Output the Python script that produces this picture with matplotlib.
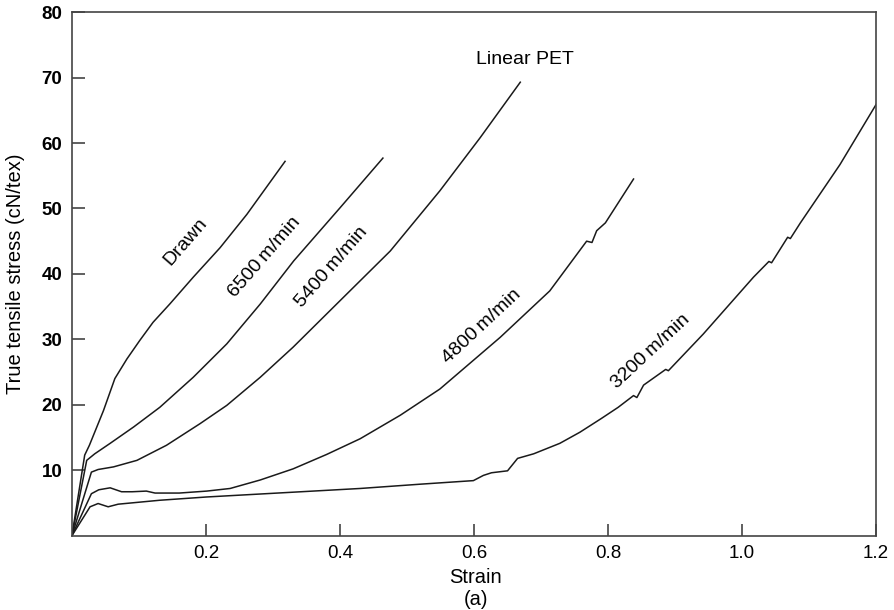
import matplotlib
matplotlib.use("Agg")
import matplotlib.pyplot as plt

plt.rcParams['font.family'] = ['Liberation Sans', 'DejaVu Sans']

# stress-strain curves
drawn_x = [0, 0.010, 0.019, 0.026, 0.047, 0.064, 0.082, 0.101, 0.121, 0.146, 0.181, 0.221, 0.261, 0.318]
drawn_y = [0, 6.5, 12.3, 13.8, 19.1, 24.0, 27.0, 29.8, 32.6, 35.4, 39.5, 44.0, 49.1, 57.2]

v6500_x = [0, 0.022, 0.034, 0.057, 0.092, 0.131, 0.181, 0.231, 0.281, 0.331, 0.40, 0.464]
v6500_y = [0, 11.5, 12.5, 14.1, 16.6, 19.6, 24.2, 29.3, 35.4, 42.0, 50.1, 57.7]

v5400_x = [0, 0.029, 0.039, 0.062, 0.097, 0.141, 0.191, 0.231, 0.281, 0.330, 0.40, 0.475, 0.549, 0.609, 0.669]
v5400_y = [0, 9.7, 10.1, 10.5, 11.5, 13.8, 17.1, 19.9, 24.2, 28.8, 35.9, 43.5, 52.7, 60.8, 69.3]

v4800_x = [0, 0.029, 0.040, 0.057, 0.074, 0.090, 0.111, 0.124, 0.16, 0.201, 0.236, 0.281, 0.330,
           0.38, 0.43, 0.49, 0.549, 0.639, 0.713, 0.768, 0.776, 0.783, 0.796, 0.838]
v4800_y = [0, 6.4, 7.0, 7.3, 6.7, 6.7, 6.8, 6.5, 6.5, 6.8, 7.2, 8.5, 10.2,
           12.4, 14.8, 18.4, 22.4, 30.3, 37.4, 45.0, 44.8, 46.6, 47.8, 54.5]

v3200_x = [0, 0.027, 0.039, 0.054, 0.069, 0.131, 0.201, 0.43, 0.519, 0.599, 0.614, 0.626, 0.650,
           0.665, 0.689, 0.728, 0.758, 0.790, 0.815, 0.838, 0.843, 0.853, 0.886, 0.890, 0.942,
           1.017, 1.040, 1.044, 1.068, 1.072, 1.087, 1.146, 1.2]
v3200_y = [0, 4.4, 4.9, 4.4, 4.8, 5.4, 5.9, 7.2, 7.85, 8.4, 9.2, 9.6, 9.9,
           11.8, 12.5, 14.1, 15.8, 17.9, 19.6, 21.4, 21.1, 23.0, 25.4, 25.2, 30.8,
           39.5, 41.9, 41.7, 45.6, 45.4, 47.8, 56.7, 65.9]

x_ticks = [0.2, 0.4, 0.6, 0.8, 1.0, 1.2]
y_ticks = [10, 20, 30, 40, 50, 60, 70, 80]

fig = plt.figure(figsize=(8.94, 6.10), dpi=100)
ax = fig.add_axes([0.0805, 0.122, 0.8995, 0.858])

for xs, ys in [(drawn_x, drawn_y), (v6500_x, v6500_y), (v5400_x, v5400_y),
               (v4800_x, v4800_y), (v3200_x, v3200_y)]:
    ax.plot(xs, ys, color='#1a1a1a', lw=1.1)

ax.set_xlim(0, 1.2)
ax.set_ylim(0, 80)
ax.set_xticks(x_ticks)
ax.set_xticklabels(['%.1f' % v for v in x_ticks], fontsize=13.5)
ax.set_yticks(y_ticks)
ax.set_yticklabels([str(v) for v in y_ticks], fontsize=13.5, fontweight='bold')
ax.tick_params(direction='in', length=9, width=1.2, color='#444444', pad=7)
for s in ax.spines.values():
    s.set_linewidth(1.2)
    s.set_color('#444444')

ax.set_ylabel('True tensile stress (cN/tex)', fontsize=14.5)
ax.yaxis.set_label_coords(-0.059, 0.5)
fig.text(0.532, 0.053, 'Strain', ha='center', va='center', fontsize=14.5)
fig.text(0.532, 0.017, '(a)', ha='center', va='center', fontsize=14.5)

# curve labels
lab = dict(fontsize=14, ha='center', va='center', rotation_mode='anchor')
ax.text(0.169, 45.0, 'Drawn', rotation=49, **lab)
ax.text(0.288, 42.5, '6500\u2009m/min', rotation=49, **lab)
ax.text(0.388, 41.0, '5400\u2009m/min', rotation=49, **lab)
ax.text(0.611, 32.0, '4800\u2009m/min', rotation=43, **lab)
ax.text(0.863, 28.2, '3200\u2009m/min', rotation=43, **lab)
ax.text(0.676, 72.8, 'Linear PET', **lab)

fig.savefig('out.png', dpi=100)
